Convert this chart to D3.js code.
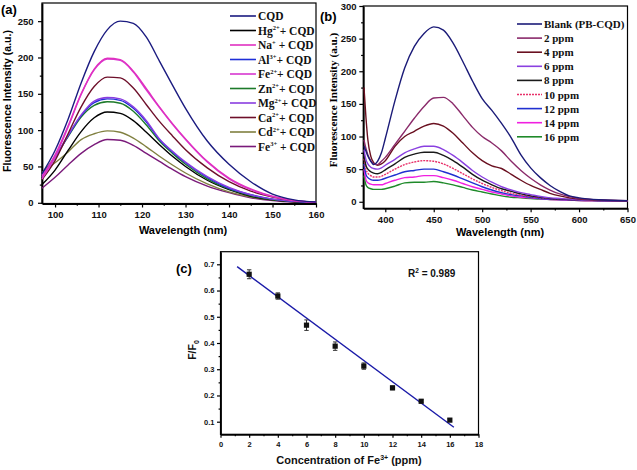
<!DOCTYPE html>
<html><head><meta charset="utf-8">
<script src="https://cdn.jsdelivr.net/npm/d3@7"></script>
<style>body{margin:0;background:#fff} svg{display:block}</style>
</head><body><svg id="c" width="637" height="470"></svg>
<script>
// ---------- DATA ----------
// Panel (a)
const aWavelength = [97,100,103,106,109,112,115,118,121,124,127,130,135,140,145,150,155,160];
const aNames = ["CQD","Hg","Na","Al","Fe2","Zn","Mg","Ca","Cd","Fe3"];
const aCQD = [40,72,115,165,208,238,250,247,228,195,162,130,85,53,29,12,4,1];
const aHg  = [25,45,72,98,117,125,123,113,97,80,64,50,31,18,9,4,1.5,0.5];
const aNa  = [36,66,106,150,184,199,197,181,157,132,109,88,57,34,19,9,3,1];
const aAl  = [36,62,92,120,138,143,141,130,111,87,70,55,35,20,11,5,2,0.5];
const aFe2 = [33,63,104,149,183,198,196,180,155,131,108,87,56,33,18,8.5,3,1];
const aZn  = [40,63,91,118,134,139,137,126,107,85,68,53,33,19,10,4.5,2,0.5];
const aMg  = [38,62,93,121,140,145,143,132,113,88,71,56,36,21,11,5,2,0.5];
const aCa  = [32,58,95,132,160,173,172,158,135,112,92,73,48,29,16,8,3,1];
const aCd  = [42,55,70,87,95,99,97,89,77,64,52,41,26,15,8,4,1.5,0.5];
const aFe3 = [20,35,52,68,80,87,86,79,68,57,46,36,23,14,7,3,1,0.5];
const aLegend = [["CQD","",""],["Hg","2+","+ CQD"],["Na","+"," + CQD"],["Al","3+","+ CQD"],["Fe","2+","+ CQD"],["Zn","2+","+ CQD"],["Mg","2+","+ CQD"],["Ca","2+","+ CQD"],["Cd","2+","+ CQD"],["Fe","3+"," + CQD"]];
const aXTicks = [100,110,120,130,140,150,160];
const aYTicks = [0,50,100,150,200,250];

// Panel (b)
const bWavelength = [378,380,382,385,388,392,396,400,410,420,430,440,450,460,470,480,490,500,510,520,530,540,550,560,570,580,590,600,620,650];
const bBlank = [85,78,70,62,57,62,75,97,155,205,238,258,268,263,243,215,185,158,140,120,98,72,52,37,25,16,9,6,3,1.5];
const b2  = [95,82,72,63,58,57,62,68,88,108,128,146,159,160,150,132,114,100,90,78,62,48,36,26,18,12,8,5,3,1.5];
const b4  = [175,130,95,70,60,56,58,63,85,100,108,116,120,116,105,90,75,63,55,51,42,33,25,19,13,9,6,4,2.5,1.5];
const b6  = [80,65,58,53,51,50,52,56,65,75,81,85,85,80,71,60,48,38,30,23,18,14,11,8,6,5,4,3,2,1];
const b8  = [72,56,50,46,44,43,45,49,58,68,73,76,76,71,63,53,42,33,26,20,16,12,9,7,5,4,3.5,3,2,1];
const b10 = [66,50,44,40,38,38,39,42,50,57,61,63,62,58,51,43,35,28,22,17,13,10,8,6,5,4,3.5,3,2,1];
const b12 = [58,42,37,34,33,33,34,36,41,46,48,50,50,46,41,35,29,23,18,14,11,9,7,5,4,3.5,3,2.5,2,1];
const b14 = [50,34,29,27,26,26,26,28,33,37,38,40,40,37,33,28,23,19,15,12,9,7,6,4.5,3.5,3,2.5,2,1.5,1];
const b16 = [40,26,22,20,19,19,19,20,24,29,30,30,31,29,26,22,18,15,12,9,7,6,5,4,3.5,3,2.5,2,1.5,1];
const bLegend = ["Blank (PB-CQD)","2 ppm","4 ppm","6 ppm","8 ppm","10 ppm","12 ppm","14 ppm","16 ppm"];
const bXTicks = [400,450,500,550,600,650];
const bYTicks = [0,50,100,150,200,250,300];

// Panel (c)
const cConc  = [2,4,6,8,10,12,14,16];
const cRatio = [0.662,0.579,0.468,0.388,0.312,0.229,0.178,0.106];
const cErr   = [0.017,0.012,0.02,0.016,0.012,0.007,0.006,0.005];
const cFitSlope = -0.0405, cFitIntercept = 0.738;
const cFitRange = [1.16, 16.28];
const cXTicks = [0,2,4,6,8,10,12,14,16,18];
const cYTicks = [0.1,0.2,0.3,0.4,0.5,0.6,0.7];

// ---------- STYLE ----------
const SANS = "'Liberation Sans', Arial, sans-serif";
const SERIF = "'Liberation Serif', 'Times New Roman', serif";
const aColors = ["#1b1b80","#000000","#e030c0","#1f2fd8","#d838d0","#1d7a2a","#8a3ee0","#6e0f2a","#808040","#7a1a7a"];
const bColors = ["#1b1b78","#8a2a6a","#6a1020","#8a40e0","#1a1a1a","#e8306a","#2030d0","#f020e0","#1f8a2a"];

const svg = d3.select("#c");

function axes(x, y, o) {
  const g = svg.append("g");
  const [x0, x1] = x.range(), [y0, y1] = y.range();
  g.append("rect").attr("x", x0).attr("y", y1).attr("width", x1 - x0).attr("height", y0 - y1)
    .attr("fill", "none").attr("stroke", "#000").attr("stroke-width", 1.2);
  const ax = g.append("g").attr("transform", `translate(0,${y0})`)
    .call(d3.axisBottom(x).tickValues(o.xt).tickSize(o.ts).tickSizeOuter(0).tickPadding(o.xpad).tickFormat(o.xf || d3.format("d")));
  g.append("g").attr("transform", `translate(0,${y0})`)
    .call(d3.axisBottom(x).tickValues(o.xm).tickSize(o.ts * 0.55).tickSizeOuter(0).tickFormat(""))
    .select(".domain").remove();
  const ay = g.append("g").attr("transform", `translate(${x0},0)`)
    .call(d3.axisLeft(y).tickValues(o.yt).tickSize(o.ts).tickSizeOuter(0).tickPadding(o.ypad).tickFormat(o.yf || d3.format("d")));
  g.append("g").attr("transform", `translate(${x0},0)`)
    .call(d3.axisLeft(y).tickValues(o.ym).tickSize(o.ts * 0.55).tickSizeOuter(0).tickFormat(""))
    .select(".domain").remove();
  [ax, ay].forEach(a => {
    a.select(".domain").attr("stroke-width", 1.8);
    a.selectAll(".tick text").attr("font-family", SANS).attr("font-weight", "bold").attr("font-size", o.fs).attr("fill", "#111");
  });
  g.selectAll(".tick line").attr("stroke-width", 1.2);
  return g;
}

// ---------- PANEL (a) ----------
const xa = d3.scaleLinear().domain([97, 160]).range([42, 316]);
const ya = d3.scaleLinear().domain([-1, 275]).range([203.5, 3]);
axes(xa, ya, {xt: aXTicks, xm: d3.range(105, 160, 10), yt: aYTicks, ym: d3.range(25, 275, 50), ts: 4, xpad: 4, ypad: 4.5, fs: 9.5});
const aSeries = [aCQD,aHg,aNa,aAl,aFe2,aZn,aMg,aCa,aCd,aFe3];
const lineA = d3.line().x((d, i) => xa(aWavelength[i])).y(d => ya(d)).curve(d3.curveMonotoneX);
[9,8,1,5,3,6,7,4,2,0].forEach(k => {
  svg.append("path").datum(aSeries[k]).attr("d", lineA).attr("fill", "none")
    .attr("stroke", aColors[k]).attr("stroke-width", 1.4);
});
aLegend.forEach((l, i) => {
  const yy = 16 + i * 14.5;
  svg.append("line").attr("x1", 230).attr("x2", 256).attr("y1", yy).attr("y2", yy).attr("stroke", aColors[i]).attr("stroke-width", 1.6);
  const t = svg.append("text").attr("x", 258).attr("y", yy + 4).attr("font-family", SERIF).attr("font-weight", "bold").attr("font-size", 11.5).attr("fill", "#111");
  t.append("tspan").text(l[0]);
  if (l[1]) {
    t.append("tspan").attr("font-size", 6.5).attr("dy", -4.5).text(l[1]);
    t.append("tspan").attr("dy", 4.5).text(l[2]);
  }
});
svg.append("text").attr("x", 1).attr("y", 14).attr("font-family", SANS).attr("font-weight", "bold").attr("font-size", 13).text("(a)");
svg.append("text").attr("x", (42 + 316) / 2 + 4).attr("y", 234).attr("text-anchor", "middle")
  .attr("font-family", SANS).attr("font-weight", "bold").attr("font-size", 11).text("Wavelength (nm)");
svg.append("text").attr("transform", "translate(11,101) rotate(-90)").attr("text-anchor", "middle")
  .attr("font-family", SANS).attr("font-weight", "bold").attr("font-size", 10.5).text("Fluorescence Intensity (a.u.)");

// ---------- PANEL (b) ----------
const xb = d3.scaleLinear().domain([377.3, 650]).range([363.3, 627.5]);
const yb = d3.scaleLinear().domain([-10, 300]).range([208.3, 6]);
axes(xb, yb, {xt: bXTicks, xm: d3.range(425, 650, 50), yt: bYTicks, ym: d3.range(25, 300, 50), ts: 4, xpad: 4, ypad: 2.8, fs: 9.5});
const bSeries = [bBlank,b2,b4,b6,b8,b10,b12,b14,b16];
const lineB = d3.line().x((d, i) => xb(bWavelength[i])).y(d => yb(d)).curve(d3.curveMonotoneX);
[8,7,6,5,4,3,2,1,0].forEach(k => {
  svg.append("path").datum(bSeries[k]).attr("d", lineB).attr("fill", "none")
    .attr("stroke", bColors[k]).attr("stroke-width", 1.4)
    .attr("stroke-dasharray", k === 5 ? "2,1" : null);
});
bLegend.forEach((l, i) => {
  const yy = 24 + i * 14.1;
  svg.append("line").attr("x1", 517).attr("x2", 542).attr("y1", yy).attr("y2", yy).attr("stroke", bColors[i]).attr("stroke-width", 1.6)
    .attr("stroke-dasharray", i === 5 ? "2,1" : null);
  svg.append("text").attr("x", 544).attr("y", yy + 4).attr("font-family", SERIF).attr("font-weight", "bold").attr("font-size", 11).attr("fill", "#111").text(l);
});
svg.append("text").attr("x", 320).attr("y", 21).attr("font-family", SANS).attr("font-weight", "bold").attr("font-size", 13).text("(b)");
svg.append("text").attr("x", (363 + 627) / 2 + 5).attr("y", 236).attr("text-anchor", "middle")
  .attr("font-family", SANS).attr("font-weight", "bold").attr("font-size", 11).text("Wavelength (nm)");
svg.append("text").attr("transform", "translate(337,100) rotate(-90)").attr("text-anchor", "middle")
  .attr("font-family", SERIF).attr("font-weight", "bold").attr("font-size", 11.2).text("Fluorescence Intensity (a.u.)");

// ---------- PANEL (c) ----------
const xc = d3.scaleLinear().domain([0, 18]).range([220.5, 478.5]);
const yc = d3.scaleLinear().domain([0.052, 0.748]).range([434.3, 251.7]);
axes(xc, yc, {xt: cXTicks, xm: d3.range(1, 18, 2), yt: cYTicks, ym: [0.15,0.25,0.35,0.45,0.55,0.65], ts: 3.5, xpad: 4, ypad: 2.5, fs: 7.5, xf: d3.format("d"), yf: d3.format(".1f")});
svg.append("line").attr("x1", xc(cFitRange[0])).attr("x2", xc(cFitRange[1]))
  .attr("y1", yc(cFitIntercept + cFitSlope * cFitRange[0])).attr("y2", yc(cFitIntercept + cFitSlope * cFitRange[1]))
  .attr("stroke", "#1a1aa8").attr("stroke-width", 1.4);
const eb = svg.append("g");
cConc.forEach((c, i) => {
  const x = xc(c), yt = yc(cRatio[i] + cErr[i]), ybt = yc(cRatio[i] - cErr[i]);
  eb.append("line").attr("x1", x).attr("x2", x).attr("y1", yt).attr("y2", ybt).attr("stroke", "#333").attr("stroke-width", 1);
  [yt, ybt].forEach(v => eb.append("line").attr("x1", x - 2.2).attr("x2", x + 2.2).attr("y1", v).attr("y2", v).attr("stroke", "#333").attr("stroke-width", 1));
  eb.append("rect").attr("x", x - 2.6).attr("y", yc(cRatio[i]) - 2.6).attr("width", 5.2).attr("height", 5.2).attr("fill", "#111");
});
svg.append("text").attr("x", 176).attr("y", 273).attr("font-family", SANS).attr("font-weight", "bold").attr("font-size", 13).text("(c)");
const r2 = svg.append("text").attr("x", 408).attr("y", 277).attr("font-family", SANS).attr("font-weight", "bold").attr("font-size", 10).attr("fill", "#111");
r2.append("tspan").text("R");
r2.append("tspan").attr("font-size", 6.5).attr("dy", -4.5).text("2");
r2.append("tspan").attr("dy", 4.5).text(" = 0.989");
const ytl = svg.append("text").attr("transform", "translate(196,350) rotate(-90)").attr("text-anchor", "middle")
  .attr("font-family", SANS).attr("font-weight", "bold").attr("font-size", 10.5).attr("fill", "#111");
ytl.append("tspan").text("F/F");
ytl.append("tspan").attr("font-size", 7).attr("dy", 3).text("0");
const xtl = svg.append("text").attr("x", 349).attr("y", 464).attr("text-anchor", "middle")
  .attr("font-family", SANS).attr("font-weight", "bold").attr("font-size", 11).attr("fill", "#111");
xtl.append("tspan").text("Concentration of Fe");
xtl.append("tspan").attr("font-size", 7).attr("dy", -4.5).text("3+");
xtl.append("tspan").attr("dy", 4.5).text(" (ppm)");
</script></body></html>
